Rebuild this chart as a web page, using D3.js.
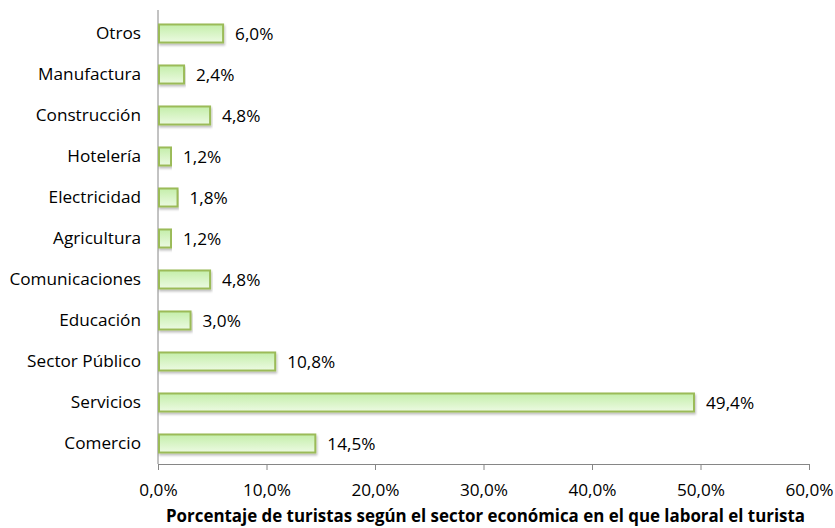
<!DOCTYPE html>
<html>
<head>
<meta charset="utf-8">
<script src="https://cdn.jsdelivr.net/npm/d3@7"></script>
<style>
  html, body { margin: 0; padding: 0; background: #fff; }
  svg text { font-family: "Open Sans", "Noto Sans", sans-serif; fill: #000; }
</style>
</head>
<body>
<svg id="chart" width="835" height="528"></svg>
<script>
// Sectors, listed top to bottom as drawn
const categories = ["Otros", "Manufactura", "Construcción", "Hotelería", "Electricidad",
  "Agricultura", "Comunicaciones", "Educación", "Sector Público", "Servicios", "Comercio"];
const values = [6.0, 2.4, 4.8, 1.2, 1.8, 1.2, 4.8, 3.0, 10.8, 49.4, 14.5];
const xTicks = [0, 10, 20, 30, 40, 50, 60];
const axisTitle = "Porcentaje de turistas según el sector económica en el que laboral el turista";

const fmt = v => v.toFixed(1).replace(".", ",") + "%";

const svg = d3.select("#chart");
const plotLeft = 158, plotRight = 809, plotTop = 13, plotBottom = 464;
const fontSize = 17.2;

const x = d3.scaleLinear().domain([0, 60]).range([plotLeft, plotRight]);
const y = d3.scaleBand().domain(categories).range([plotTop, plotBottom]).paddingInner(0.56).paddingOuter(0.28);

// bar fill gradient
const defs = svg.append("defs");
const grad = defs.append("linearGradient").attr("id", "barFill")
  .attr("x1", 0).attr("y1", 0).attr("x2", 0).attr("y2", 1);
grad.append("stop").attr("offset", "0%").attr("stop-color", "#c4eeaa");
grad.append("stop").attr("offset", "100%").attr("stop-color", "#ecfae2");

const shadow = defs.append("filter").attr("id", "shadow")
  .attr("x", "-5%").attr("y", "-30%").attr("width", "110%").attr("height", "180%");
shadow.append("feDropShadow").attr("dx", 1).attr("dy", 2).attr("stdDeviation", 1.2)
  .attr("flood-color", "#000").attr("flood-opacity", 0.25);

// x axis
const xAxis = svg.append("g").attr("transform", `translate(0,${plotBottom})`)
  .call(d3.axisBottom(x).tickValues(xTicks).tickFormat(fmt).tickSize(6).tickSizeOuter(0));
xAxis.select(".domain").attr("stroke", "#868686");
xAxis.selectAll(".tick line").attr("stroke", "#868686");
xAxis.selectAll(".tick text").attr("font-size", fontSize).attr("dy", "0.35em").attr("y", 26);

// y axis
const yAxis = svg.append("g").attr("transform", `translate(${plotLeft},0)`)
  .call(d3.axisLeft(y).tickSize(0).tickPadding(17));
yAxis.select(".domain").attr("stroke", "#868686").attr("d", `M0,${plotTop - 3}V${plotBottom}`);
yAxis.selectAll(".tick text").attr("font-size", fontSize);

// bars
svg.append("g").selectAll("rect").data(values).join("rect")
  .attr("x", x(0) + 1)
  .attr("y", (d, i) => y(categories[i]))
  .attr("width", d => x(d) - x(0) - 1)
  .attr("height", y.bandwidth())
  .attr("fill", "url(#barFill)")
  .attr("stroke", "#9bbb59")
  .attr("stroke-width", 2)
  .attr("filter", "url(#shadow)");

// value labels
svg.append("g").selectAll("text").data(values).join("text")
  .attr("x", d => x(d) + 12)
  .attr("y", (d, i) => y(categories[i]) + y.bandwidth() / 2)
  .attr("dy", "0.35em")
  .attr("font-size", fontSize)
  .text(fmt);

// axis title
svg.append("text")
  .attr("x", (plotLeft + plotRight) / 2 + 2)
  .attr("y", 522)
  .attr("text-anchor", "middle")
  .attr("font-size", 16.9)
  .attr("font-weight", "bold")
  .text(axisTitle);
</script>
</body>
</html>
